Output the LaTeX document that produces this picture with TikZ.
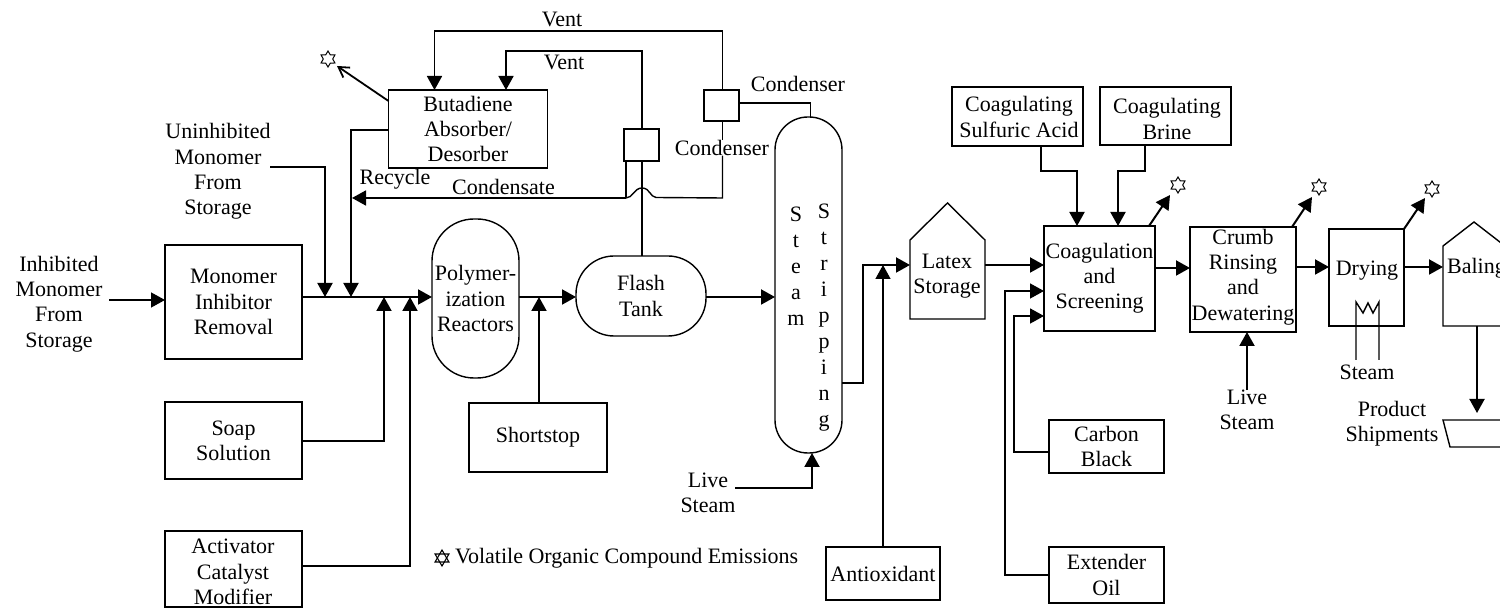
\documentclass[tikz,border=0pt]{standalone}
\usepackage{fontspec}
\setmainfont{Liberation Serif}
\usetikzlibrary{arrows.meta,calc,shapes.geometric}
\tikzset{
  x=0.5pt,y=-0.5pt,
  wh/.style 2 args={minimum width=#1*0.5pt,minimum height=#2*0.5pt},
  box/.style={draw=black,line width=0.7pt,fill=white,inner sep=0pt,outer sep=0pt,align=center,font=\fontsize{11}{12.6}\selectfont},
  lab/.style={inner sep=0pt,outer sep=0pt,align=center,font=\fontsize{11}{12.6}\selectfont},
  ghost/.style={inner sep=0pt,outer sep=0pt},
  thin line/.style={line width=0.7pt,line join=miter},
  flow/.style={line width=1pt,-{Triangle[length=7pt,width=7.5pt]},line join=miter},
  thinflow/.style={line width=0.7pt,-{Triangle[length=7pt,width=7.5pt]},line join=miter},
  openarrow/.style={line width=0.9pt,-{Straight Barb[length=5pt,width=6pt]}},
  vocstar/.style={draw=black,line width=0.5pt,fill=white,star,star points=6,star point ratio=1.7,minimum size=8pt,inner sep=0pt,outer sep=0pt},
  tri/.style={draw=black,line width=0.55pt,regular polygon,regular polygon sides=3,minimum size=8pt,inner sep=0pt},
}
\begin{document}
\begin{tikzpicture}
\clip (0,0) rectangle (1500,608);
% boxes
\node[box,wh={137}{114}] (mon) at (233.5,302) {Monomer\\Inhibitor\\Removal};
\node[box,wh={137}{77}] (soap) at (233.5,440.5) {Soap\\Solution};
\node[box,wh={137}{76}] (act) at (233.5,569) {};
\node[box,wh={159}{78}] (but) at (468,129) {Butadiene\\Absorber/\\Desorber};
\node[box,wh={35}{32}] (cond2) at (641.5,145) {};
\node[box,wh={35}{31}] (cond1) at (721.5,105.5) {};
\node[box,wh={87}{159},rounded corners=21pt] (poly) at (475.5,298.5) {Polymer-\\ization\\Reactors};
\node[box,wh={130}{80},rounded corners=19pt] (flash) at (641,296) {Flash\\Tank};
\node[box,wh={138}{69}] (short) at (538,437.5) {Shortstop};
\node[box,wh={67}{336},rounded corners=16.5pt] (col) at (808.5,285) {};
\node[box,wh={114}{53}] (anti) at (883,573.5) {Antioxidant};
\node[box,wh={131}{59}] (acid) at (1017.5,116.5) {};
\node[box,wh={131}{58}] (brine) at (1165.5,116) {};
\node[box,wh={111}{105}] (coag) at (1099.5,278.5) {Coagulation\\and\\Screening};
\node[box,wh={115}{53}] (carbon) at (1106.5,446.5) {Carbon\\Black};
\node[box,wh={115}{56}] (oil) at (1106.5,575) {Extender\\Oil};
\node[box,wh={106}{105}] (crumb) at (1243,279.5) {};
\node[box,wh={75}{97}] (dry) at (1366.5,277.5) {};
% houses
\node[ghost,wh={75}{116}] (lat) at (947.5,261) {};
\draw[thin line] (lat.south west) -- ($(lat.north west)+(0,37)$) -- (lat.north) -- ($(lat.north east)+(0,37)$) -- (lat.south east) -- cycle;
\node[ghost,wh={62}{104}] (bal) at (1474,274) {};
\draw[thin line] (bal.south west) -- ($(bal.north west)+(0,24)$) -- (bal.north) -- ($(bal.north east)+(0,24)$) -- (bal.south east) -- cycle;
% product shipment
\coordinate (pa) at (1443,420);
\coordinate (pb) at (1450,447);
\coordinate (pc) at (1510,447);
\coordinate (pd) at (1510,420);
\draw[thin line] (pd) -- (pa) -- (pb) -- (pc);
% texts
\node[lab] (actt) at (233,572) {Activator\\Catalyst\\Modifier};
\node[lab] (acidt) at (1019,117) {Coagulating\\Sulfuric Acid};
\node[lab] (brinet) at (1167,119) {Coagulating\\Brine};
\node[lab] (crumbt) at (1243,277) {Crumb\\Rinsing\\and\\Dewatering};
\node[lab] (t1) at (59,304) {Inhibited\\Monomer\\From\\Storage};
\node[lab] (t2) at (218,171.5) {Uninhibited\\Monomer\\From\\Storage};
\node[lab] (vent1) at (562,19) {Vent};
\node[lab] (vent2) at (564,62) {Vent};
\node[lab] (cn1) at (798,84) {Condenser};
\node[lab,fill=white] (cn2) at (722,148) {Condenser};
\node[lab] (rec) at (395,179) {Recycle};
\node[lab] (cnd) at (503.5,187) {Condensate};
\node[lab] (ss1) at (796,266) {S\\[0.4pt]t\\[0.4pt]e\\[0.4pt]a\\[0.4pt]m};
\node[lab] (ss2) at (824,318) {S\\[0.4pt]t\\[0.4pt]r\\[0.4pt]i\\[0.4pt]p\\[0.4pt]p\\[0.4pt]i\\[0.4pt]n\\[0.4pt]g};
\node[lab] (ls1) at (708,492.5) {Live\\Steam};
\node[lab] (lat2) at (947,276) {Latex\\Storage};
\node[lab] (bal2) at (1476.5,268) {Baling};
\node[lab] (dr2) at (1367,271) {Drying};
\node[lab] (ls2) at (1247,410) {Live\\Steam};
\node[lab] (st2) at (1367,372) {Steam};
\node[lab] (ps) at (1392,424) {Product\\Shipments};
\node[lab,anchor=west] (leg) at (455,558) {Volatile Organic Compound Emissions};
% legend star
\node[tri] (l1) at (442,558) {};
\node[tri,shape border rotate=180] (l2) at (442,558) {};
% emission stars
\node[vocstar] (s0) at (328,59) {};
\node[vocstar] (s1) at (1178,185) {};
\node[vocstar] (s2) at (1319,187) {};
\node[vocstar] (s3) at (1432,189) {};
\coordinate (e0) at (337,66);
\coordinate (e1) at (1170,195);
\coordinate (e2) at (1312,197);
\coordinate (e3) at (1425,198);
% main flow
\draw[thinflow] (109,300) -- (mon.west |- 0,300);
\draw[flow] (mon.east |- 0,297) -- (poly.west |- 0,297);
\draw[flow] (poly.east |- 0,297) -- (flash.west |- 0,297);
\draw[flow] (flash.east |- 0,297) -- (col.west |- 0,297);
\draw[flow] (soap.east |- 0,441) -| (384,297);
\draw[flow] (act.east |- 0,566) -| (410,297);
\draw[flow] (short.north -| 539,0) -- (539,297);
\draw[flow] (270,167) -| (325,297);
\draw[flow] (but.west |- 0,130) -| (351,297);
% vents
\draw[flow,line width=0.85pt] (cond1.north -| 722.5,0) |- (434.5,31) -- (but.north -| 434.5,0);
\draw[flow,line width=0.85pt] (cond2.north -| 642,0) |- (506,51) -- (but.north -| 506,0);
\draw[openarrow] (but.west |- 0,101) -- (e0);
% condensate
\draw[thin line] (cond1.south -| 722.5,0) -- (cn2.north -| 722.5,0);
\draw[thin line] (cn2.south -| 722.5,0) -- (722.5,198) -- (656,197.5) .. controls (650,197) and (650,188) .. (642,188) .. controls (634,188) and (633,198) .. (626,198);
\draw[thin line] (cond2.south -| 626,0) -- (626,198);
\draw[flow,line width=0.9pt] (626,198) -- (352,198);
\draw[thin line] (cond2.south -| 642,0) -- (flash.north -| 642,0);
% condenser to column
\draw[thin line] (cond1.east |- 0,103) -| (col.north -| 810.5,0);
% column outflow
\draw[flow] (735,488) -| (col.south -| 812,0);
\draw[flow] (col.east |- 0,383) -- (863,383) -- (863,265) -- (lat.west |- 0,265);
\draw[thinflow] (anti.north) -- (883,265);
% coagulation
\draw[flow] (lat.east |- 0,265) -- (coag.west |- 0,265);
\draw[thinflow] (oil.west) -| (1005,291) -- (coag.west |- 0,291);
\draw[flow,line width=0.8pt] (carbon.west |- 0,452) -| (1014,316) -- (coag.west |- 0,316);
\draw[flow] (acid.south -| 1041,0) -- (1041,171) -- (1077,171) -- (coag.north -| 1077,0);
\draw[flow] (brine.south -| 1145,0) -- (1145,171) -- (1118,171) -- (coag.north -| 1118,0);
\draw[flow] (coag.north -| 1149,0) -- (e1);
\draw[flow] (crumb.north -| 1292,0) -- (e2);
\draw[flow] (dry.north east) -- (e3);
\draw[flow] (coag.east |- 0,268) -- (crumb.west |- 0,268);
\draw[flow] (crumb.east |- 0,267) -- (dry.west |- 0,267);
\draw[flow] (dry.east |- 0,267) -- (bal.west |- 0,267);
\draw[flow] (ls2.north) -- (crumb.south -| ls2.north);
\draw[flow] (bal.south -| 1477,0) -- (1477,413);
% heater coil
\draw[thin line] (1356,360) -- (1356,302) -- (1363,313) -- (1368,303) -- (1373,313) -- (1379,302) -- (1379,360);
\end{tikzpicture}
\end{document}
